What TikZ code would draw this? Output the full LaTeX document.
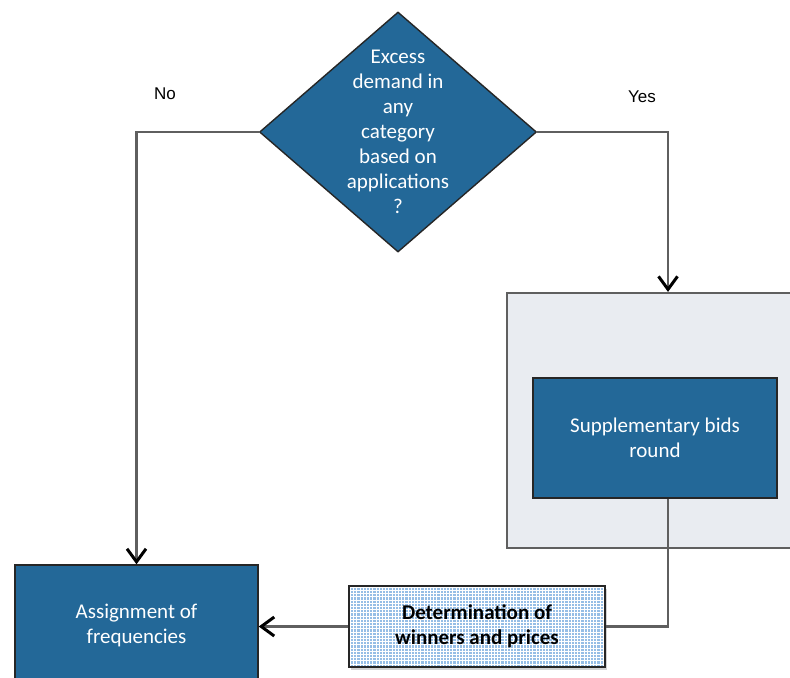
\documentclass[tikz,border=0pt]{standalone}
\usepackage{fontspec}
\setmainfont{Carlito}
\newfontfamily\labelfont{Liberation Sans}
\usetikzlibrary{shapes.geometric,arrows.meta,shadows}

\definecolor{boxblue}{RGB}{35,104,152}
\definecolor{panelgray}{RGB}{233,236,241}
\definecolor{hatchblue}{RGB}{150,190,230}
\definecolor{linegray}{RGB}{95,95,95}

\tikzset{
    bluebox/.style={rectangle,draw=black!85,fill=boxblue,text=white,line width=0.7pt,
        align=center,font=\fontsize{10.5}{12.5}\selectfont},
    hatchbox/.style={rectangle,draw=black!85,line width=0.7pt,fill=hatchblue,
        path picture={\draw[white,line width=0.45pt,step=1.6pt]
            (path picture bounding box.south west) grid (path picture bounding box.north east);},
        drop shadow={shadow xshift=0.8pt,shadow yshift=-1.5pt,opacity=0.35},
        align=center,font=\fontsize{10.5}{12.5}\selectfont\bfseries},
    flow/.style={draw=linegray,line width=1.1pt},
    flowarrow/.style={flow,-{Straight Barb[length=6.5pt,width=9.5pt,line width=1.5pt,color=black]}}
}

\begin{document}
\begin{tikzpicture}[x=0.5pt,y=-0.5pt]
        \useasboundingbox (0,0) rectangle (790,677);
        \node (outer) [rectangle,draw=linegray,fill=panelgray,line width=1.1pt,
            minimum width=161pt,minimum height=127.5pt] at (668,420.5) {};
        \begin{scope}[every node/.style={bluebox}]
            \node (dec) [diamond,inner sep=0pt,minimum width=138.5pt,minimum height=120pt,
                label={[text=white,align=center,font=\fontsize{10.5}{12.5}\selectfont]center:Excess\\demand in\\any\\category\\based on\\applications\\?}] at (398,132) {};
            \node (sup) [minimum width=122pt,minimum height=60pt] at (655,438) {Supplementary bids\\round};
            \node (assign) [minimum width=121.5pt,minimum height=60pt] at (136.5,625) {Assignment of\\frequencies};
        \end{scope}
        \node (det) [hatchbox,minimum width=128pt,minimum height=40.5pt] at (477,626.5) {Determination of\\winners and prices};
        \node (no) [font=\labelfont\fontsize{8.5}{10}\selectfont] at (165,94) {No};
        \node (yes) [font=\labelfont\fontsize{8.5}{10}\selectfont] at (642,97) {Yes};
        \draw [flowarrow] (dec.west) -| (assign.north);
        \draw [flowarrow] (dec.east) -| (outer.north);
        \draw [flow] (sup.south -| outer.north) |- (det.east);
        \draw [flowarrow] (det.west) -- (det.west -| assign.east);
    \end{tikzpicture}
\end{document}
